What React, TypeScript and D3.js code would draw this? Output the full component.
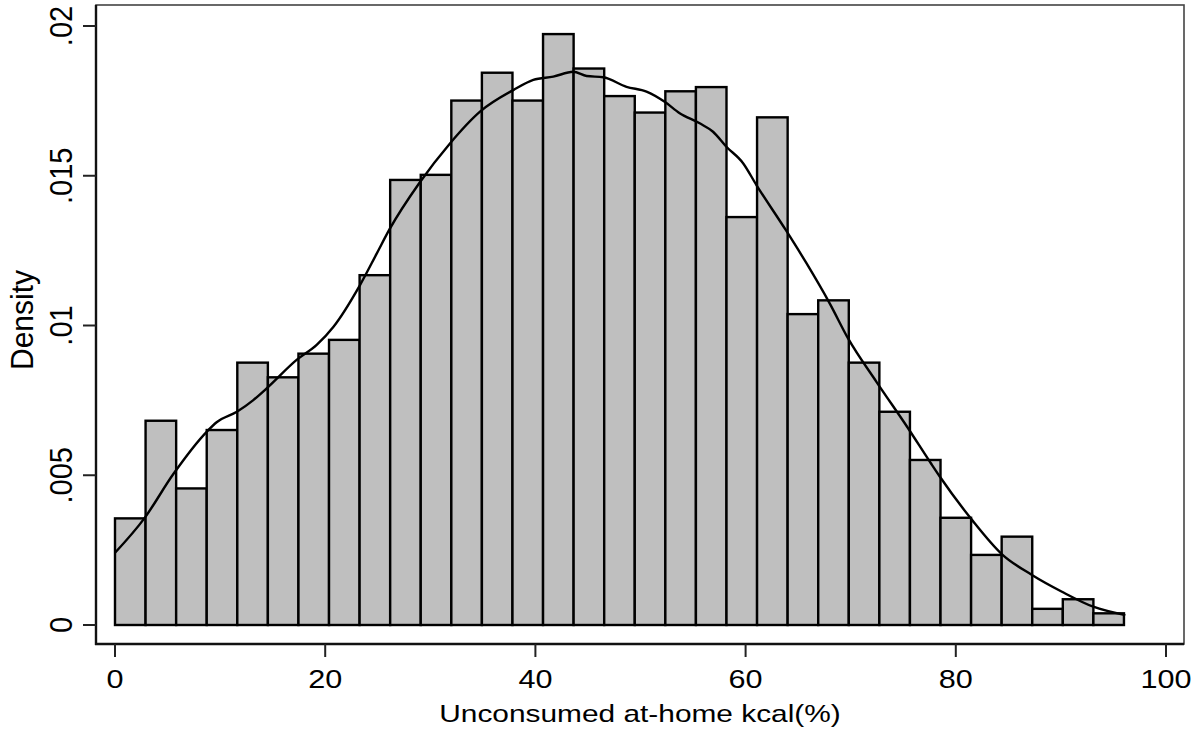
import React from "react";
import * as d3 from "d3";

// Histogram: 33 bins from 0 to 96 (equal width)
const binStart = 0;
const binEnd = 96;
const densities = [
  0.00356, 0.00682, 0.00456, 0.00651, 0.00876, 0.00827, 0.00906, 0.00952,
  0.01168, 0.01486, 0.01503, 0.01751, 0.01844, 0.01751, 0.01973, 0.01858,
  0.01766, 0.01711, 0.01782, 0.01796, 0.01362, 0.01695, 0.01038, 0.01084,
  0.00876, 0.00712, 0.00551, 0.00358, 0.00234, 0.00295, 0.00054, 0.00086,
  0.00039,
];

// Kernel density curve
const kdeX = [
  0, 2.79, 5.55, 8.72, 9.67, 11.6, 13.16, 14.43, 17.28, 19.19, 20.77, 23.31,
  24.9, 26.1, 28.94, 31.87, 34.73, 37.9, 39.8, 41.7, 43.6, 44.87, 46.45, 48.67,
  50.57, 52.3, 53.73, 55.63, 56.9, 58.17, 59.76, 61.03, 63.82, 65.79, 68.0,
  69.75, 72.45, 75.46, 77.63, 78.49, 81.54, 84.37, 87.25, 90.1, 93.08, 96.13,
];
const kdeY = [
  0.00241, 0.00356, 0.00504, 0.00645, 0.00677, 0.00712, 0.00751, 0.0079,
  0.00885, 0.00935, 0.00995, 0.01135, 0.01240, 0.0132, 0.01475, 0.01608,
  0.01714, 0.01786, 0.0182, 0.01831, 0.01847, 0.01833, 0.01829, 0.01797,
  0.01781, 0.01747, 0.01709, 0.01675, 0.01647, 0.01597, 0.01542, 0.01469,
  0.01319, 0.01208, 0.01074, 0.00957, 0.00812, 0.00657, 0.0054, 0.00495,
  0.00351, 0.00237, 0.00167, 0.00111, 0.00061, 0.00033,
];

const xTicks = [0, 20, 40, 60, 80, 100];
const yTicks = [0, 0.005, 0.01, 0.015, 0.02];
const yTickLabels = ["0", ".005", ".01", ".015", ".02"];
const xTitle = "Unconsumed at-home kcal(%)";
const yTitle = "Density";

const W = 1200;
const H = 736;
const frame = { left: 96, top: 5, right: 1184, bottom: 644 };

export default function App() {
  const x = d3.scaleLinear().domain([0, 100]).range([115, 1166]);
  const y = d3.scaleLinear().domain([0, 0.02]).range([625, 26]);
  const bw = (binEnd - binStart) / densities.length;

  const line = d3
    .line<number>()
    .x((_, i) => x(kdeX[i]))
    .y((d) => y(d))
    .curve(d3.curveMonotoneX);

  const font = "'Liberation Sans', Arial, Helvetica, sans-serif";

  return (
    <svg
      width={W}
      height={H}
      style={{ position: "absolute", left: 0, top: 0, background: "#fff" }}
    >
      <rect x={0} y={0} width={W} height={H} fill="#fff" />
      {/* frame */}
      <rect
        x={frame.left}
        y={frame.top}
        width={frame.right - frame.left}
        height={frame.bottom - frame.top}
        fill="none"
        stroke="#444"
        strokeWidth={1.6}
      />
      <line x1={frame.left} x2={frame.left} y1={frame.top} y2={frame.bottom + 1} stroke="#111" strokeWidth={2.4} />
      <line x1={frame.left - 1} x2={frame.right} y1={frame.bottom} y2={frame.bottom} stroke="#111" strokeWidth={2.4} />

      {/* bars */}
      {densities.map((d, i) => {
        const x0 = x(binStart + i * bw);
        const x1 = x(binStart + (i + 1) * bw);
        return (
          <rect
            key={i}
            x={x0}
            y={y(d)}
            width={x1 - x0}
            height={y(0) - y(d)}
            fill="#bfbfbf"
            stroke="#000"
            strokeWidth={2.4}
          />
        );
      })}

      {/* density curve */}
      <path d={line(kdeY) || ""} fill="none" stroke="#000" strokeWidth={2.4} />

      {/* x axis ticks */}
      {xTicks.map((t) => (
        <g key={t}>
          <line x1={x(t)} x2={x(t)} y1={frame.bottom} y2={frame.bottom + 13} stroke="#222" strokeWidth={2} />
          <text
            transform={`translate(${x(t)},688) scale(1.2,1)`}
            textAnchor="middle"
            fontFamily={font}
            fontSize={25.5}
            fill="#000"
          >
            {t}
          </text>
        </g>
      ))}

      {/* y axis ticks */}
      {yTicks.map((t, i) => (
        <g key={t}>
          <line x1={frame.left - 13} x2={frame.left} y1={y(t)} y2={y(t)} stroke="#222" strokeWidth={2} />
          <text
            transform={`translate(72,${y(t)}) scale(1.1,1) rotate(-90)`}
            textAnchor="middle"
            fontFamily={font}
            fontSize={29}
            fill="#000"
          >
            {yTickLabels[i]}
          </text>
        </g>
      ))}

      {/* axis titles */}
      <text
        transform={`translate(${(frame.left + frame.right) / 2},722) scale(1.245,1)`}
        textAnchor="middle"
        fontFamily={font}
        fontSize={24}
        fill="#000"
      >
        {xTitle}
      </text>
      <text
        transform={`translate(33,320) scale(1.05,1) rotate(-90)`}
        textAnchor="middle"
        fontFamily={font}
        fontSize={30}
        fill="#000"
      >
        {yTitle}
      </text>
    </svg>
  );
}
